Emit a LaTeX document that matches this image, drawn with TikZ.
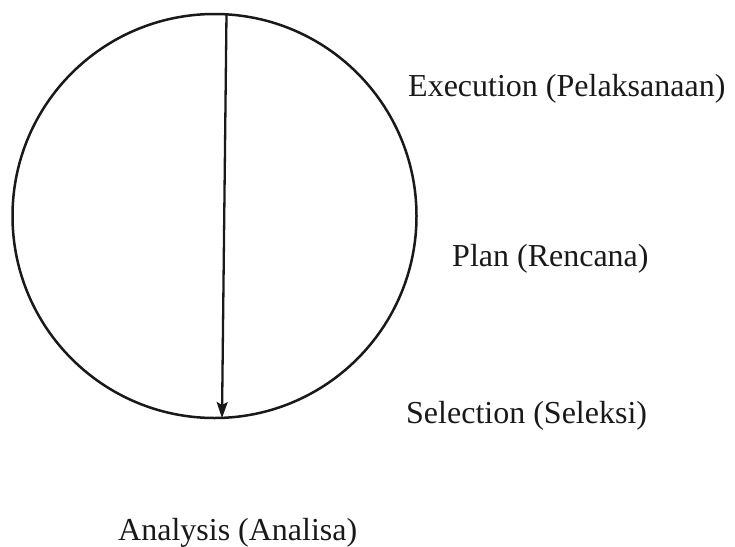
\documentclass[tikz,border=0pt]{standalone}
\usepackage{fontspec}
\setmainfont{Liberation Serif}
\usetikzlibrary{arrows.meta}
\begin{document}
\begin{tikzpicture}[x=1pt,y=-1pt,
  lbl/.style={anchor=base west,inner sep=0pt,font=\fontsize{32}{38}\selectfont,text=black!90},
  ring/.style={circle,draw=black!90,line width=2.5pt,inner sep=0pt,minimum size=404pt},
  axis/.style={draw=black!90,line width=2.3pt,-{Stealth[length=16pt,width=11pt,inset=3pt]}}]
\useasboundingbox (0,0) rectangle (735,546);
\node[ring] (C) at (214.5,216) {};
\coordinate (top) at (226.5,13.5);
\coordinate (bot) at (222,418);
\draw[axis] (top) -- (bot);
\node[lbl] (exe) at (408,96) {Execution (Pelaksanaan)};
\node[lbl] (plan) at (452,266) {Plan (Rencana)};
\node[lbl] (sel) at (406,423) {Selection (Seleksi)};
\node[lbl] (ana) at (118,540) {Analysis (Analisa)};
\end{tikzpicture}
\end{document}
